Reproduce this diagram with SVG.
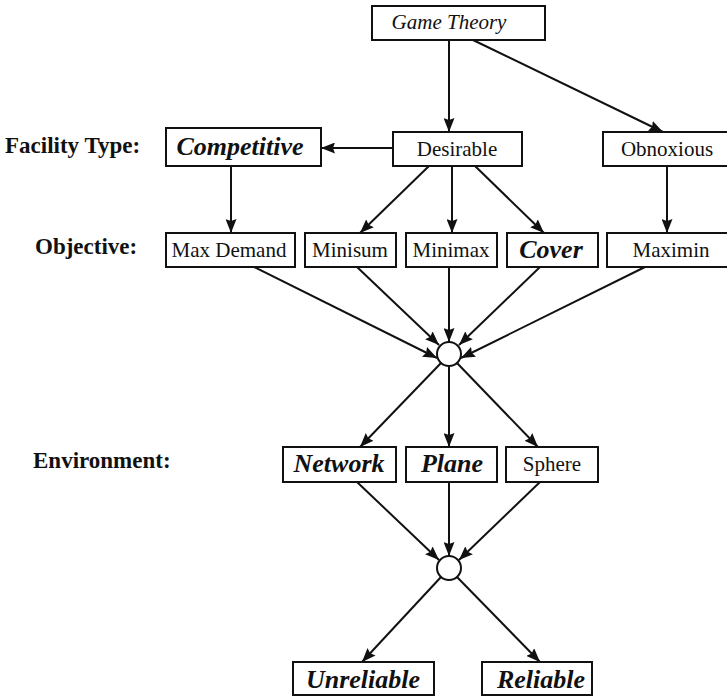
<svg xmlns="http://www.w3.org/2000/svg" width="727" height="696" viewBox="0 0 727 696">
<defs>
<marker id="ah" markerUnits="userSpaceOnUse" markerWidth="14" markerHeight="11" refX="14" refY="5.5" orient="auto">
<path d="M0,0 L14,5.5 L0,11 L2,5.5 z" fill="#111"/>
</marker>
<style>
rect.b{fill:#fff;stroke:#111;stroke-width:2}
circle.j{fill:#fff;stroke:#111;stroke-width:2}
text{fill:#111;text-anchor:middle}
.n{font-size:21px}
.i{font-size:21px;font-style:italic}
.bi{font-size:26px;font-style:italic;font-weight:bold}
.lab{font-size:23px;font-weight:bold;text-anchor:start}
#edges line{stroke:#111;stroke-width:2;marker-end:url(#ah)}
</style>
</defs>
<rect width="727" height="696" fill="#fff"/>
<g font-family="Liberation Serif, Times New Roman, DejaVu Serif, serif">
<g id="labels">
<text class="lab" x="5" y="153">Facility Type:</text>
<text class="lab" x="35" y="254">Objective:</text>
<text class="lab" x="33" y="468">Environment:</text>
</g>
<g id="edges">
<line x1="449" y1="40" x2="449" y2="132"/>
<line x1="473" y1="40" x2="663" y2="132"/>
<line x1="393" y1="148" x2="321" y2="148"/>
<line x1="231" y1="166" x2="231" y2="233"/>
<line x1="429" y1="166" x2="360" y2="233"/>
<line x1="452" y1="166" x2="452" y2="233"/>
<line x1="475" y1="166" x2="544" y2="233"/>
<line x1="667" y1="166" x2="667" y2="233"/>
<line x1="254" y1="267" x2="437" y2="358"/>
<line x1="357" y1="267" x2="439" y2="345"/>
<line x1="449" y1="267" x2="449" y2="342"/>
<line x1="540" y1="267" x2="459" y2="345"/>
<line x1="645" y1="267" x2="461" y2="358"/>
<line x1="441" y1="363" x2="360" y2="447"/>
<line x1="449" y1="366" x2="449" y2="447"/>
<line x1="457" y1="363" x2="538" y2="447"/>
<line x1="357" y1="482" x2="439" y2="560"/>
<line x1="449" y1="482" x2="449" y2="556"/>
<line x1="540" y1="482" x2="459" y2="560"/>
<line x1="441" y1="577" x2="362" y2="662"/>
<line x1="457" y1="577" x2="540" y2="662"/>
</g>
<g id="gametheory"><rect class="b" x="372" y="6" width="173" height="34"/><text class="i" x="449" y="29">Game Theory</text></g>
<g id="desirable"><rect class="b" x="393" y="132" width="129" height="34"/><text class="n" x="457" y="156">Desirable</text></g>
<g id="obnoxious"><rect class="b" x="603" y="132" width="130" height="34"/><text class="n" x="667" y="156">Obnoxious</text></g>
<g id="competitive"><rect class="b" x="166" y="128" width="155" height="38"/><text class="bi" x="240" y="155">Competitive</text></g>
<g id="maxdemand"><rect class="b" x="166" y="233" width="129" height="34"/><text class="n" x="229" y="257">Max Demand</text></g>
<g id="minisum"><rect class="b" x="305" y="233" width="91" height="34"/><text class="n" x="350" y="257">Minisum</text></g>
<g id="minimax"><rect class="b" x="406" y="233" width="91" height="34"/><text class="n" x="451" y="257">Minimax</text></g>
<g id="cover"><rect class="b" x="507" y="233" width="91" height="34"/><text class="bi" x="551" y="258">Cover</text></g>
<g id="maximin"><rect class="b" x="607" y="233" width="126" height="34"/><text class="n" x="671" y="257">Maximin</text></g>
<g id="junction1"><circle class="j" cx="449" cy="354" r="12"/></g>
<g id="network"><rect class="b" x="283" y="447" width="113" height="35"/><text class="bi" x="339" y="472">Network</text></g>
<g id="plane"><rect class="b" x="406" y="447" width="91" height="35"/><text class="bi" x="452" y="472">Plane</text></g>
<g id="sphere"><rect class="b" x="506" y="447" width="92" height="35"/><text class="n" x="552" y="471">Sphere</text></g>
<g id="junction2"><circle class="j" cx="449" cy="568" r="12"/></g>
<g id="unreliable"><rect class="b" x="293" y="662" width="141" height="33"/><text class="bi" x="363" y="688">Unreliable</text></g>
<g id="reliable"><rect class="b" x="482" y="662" width="110" height="33"/><text class="bi" x="541" y="688">Reliable</text></g>
</g>
</svg>
